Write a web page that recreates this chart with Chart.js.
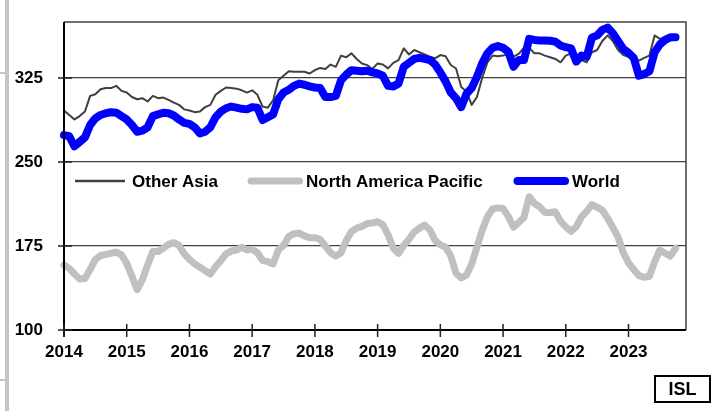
<!DOCTYPE html>
<html>
<head>
<meta charset="utf-8">
<script src="https://cdn.jsdelivr.net/npm/chart.js@4.4.1/dist/chart.umd.min.js"></script>
<style>
  html, body { margin: 0; padding: 0; background: #fff; }
  #wrap { position: relative; width: 716px; height: 411px; }
</style>
</head>
<body>
<div id="wrap"><canvas id="c" width="716" height="411"></canvas></div>
<script>
// ---- data (monthly, Jan 2014 .. Oct 2023) ----
const yearLabels = ["2014","2015","2016","2017","2018","2019","2020","2021","2022","2023"];
const yTicks = [100, 175, 250, 325];
const seriesNames = ["Other Asia", "North America Pacific", "World"];

const otherAsia = [
  296,292,288,291,295,309,310.5,315,316,316,
  318,313.5,312,308,306,307,304,309,307,307.5,
  305.5,303,301,297,296,294.5,295,299,301,310,
  313.5,316.5,316,315.5,314,312,314,310,299.5,298.5,
  305,323,327,331,330.5,330.6,330.6,329,332,334,
  333,337,335,345,343.5,347,342,338,336.5,333,
  338,337,333.6,338.5,341,351.5,346,350,348,346,
  344,342.6,345.5,344.5,336.6,333.5,317,313,301,308,
  325,339,345,344.5,345,346.5,344,346.5,352,352,
  347,347,345,343.5,342,339,345,347,344,341,
  339,348,350,358,363,358,350,345.5,344,342.6,
  340.5,343,345,363,360,361,362,362
];
const northAmericaPacific = [
  158,155,150,145.5,146,154,163,166.5,167.5,168.5,
  169.5,167,159.5,148,136,145,158,170,170,173,
  176.5,178,175.5,168,163,159,156,153,150,156.5,
  162,168,170.5,171.4,173.8,171.5,172,169,162,161,
  159,171.4,175.5,183.5,186,186.5,184,182.4,182.4,181,
  175,169,166,169,180,188,191,192.5,195,195.5,
  196.7,194,185,173,168.5,175.5,181,187.5,191,193.7,
  189.3,180,176,174,166,150.6,146.5,149,159,174,
  189,201,208,209,208.6,201.5,191.7,196,200.5,219,
  213,210,205,205,205.5,197,192,188,192,201,
  206,212,209.5,207,199.7,191.5,183,169,160,154,
  148.5,147,148,161,171.4,168.5,166,173
];
const world = [
  274,273,264,268,272,283,289,292,293.5,294.5,
  294,291,288,283,277,278,281,291,292.5,294,
  293.5,291.5,288,285,284,281,275.5,277,281,290,
  295,298,299.5,298.5,297.5,297,299,298.5,287.5,290,
  292.5,306,312,314.5,318,320,319,317.5,316.5,316,
  308,308,309,323,328,332,331.5,331,331.5,330,
  329,327,318,317.5,320,335,338.5,342,343,342,
  341,337,330,322,312,307,299,311,316,326,
  338,347,352,353.5,352,348.5,335,341,341,360,
  359,358.5,358.5,358.3,357.5,354,352.5,351.5,339.6,345,
  344,361,363,368,370,365,358,351,347.5,343,
  327,328.5,331,348,355,359,361.3,361.3
];

const toPts = arr => arr.map((v, i) => ({ x: i, y: v }));
const FONT = "'Liberation Sans', Arial, sans-serif";

const decor = {
  id: 'decor',
  beforeDraw(chart) {
    const ctx = chart.ctx;
    ctx.save();
    // left-edge grey strip (scan artefact in reference)
    ctx.fillStyle = '#c4c4c4';
    ctx.fillRect(5, 0, 4, 411);
    ctx.fillRect(0, 72, 9, 2);
    ctx.fillRect(0, 379, 9, 2);
    ctx.restore();
  },
  afterDraw(chart) {
    const ctx = chart.ctx;
    const a = chart.chartArea;
    const xs = chart.scales.x, ys = chart.scales.y;
    ctx.save();
    // frame (top & right)
    ctx.strokeStyle = '#404040';
    ctx.lineWidth = 1.5;
    ctx.beginPath();
    ctx.moveTo(a.left, a.top); ctx.lineTo(a.right, a.top); ctx.lineTo(a.right, a.bottom);
    ctx.stroke();
    // axes
    ctx.strokeStyle = '#000';
    ctx.lineWidth = 2;
    ctx.beginPath();
    ctx.moveTo(a.left, a.top); ctx.lineTo(a.left, a.bottom + 7);
    ctx.moveTo(a.left, a.bottom); ctx.lineTo(a.right, a.bottom);
    ctx.stroke();
    // crossing tick marks
    ctx.lineWidth = 1.5;
    ctx.strokeStyle = '#222';
    ctx.beginPath();
    yearLabels.forEach((_, i) => {
      const px = xs.getPixelForValue(i * 12);
      ctx.moveTo(px, a.bottom - 6); ctx.lineTo(px, a.bottom + 7);
    });
    yTicks.forEach(v => {
      const py = ys.getPixelForValue(v);
      ctx.moveTo(a.left - 6, py); ctx.lineTo(a.left + 8, py);
    });
    ctx.stroke();

    // legend inside plot
    const ly = 181;
    const items = [
      { ds: 0, x1: 75, x2: 125, tx: 132 },
      { ds: 1, x1: 251, x2: 299.5, tx: 306 },
      { ds: 2, x1: 517.5, x2: 565, tx: 572 }
    ];
    items.forEach(it => {
      const d = chart.data.datasets[it.ds];
      ctx.strokeStyle = d.borderColor;
      ctx.lineWidth = it.ds === 0 ? 2.5 : d.borderWidth;
      ctx.lineCap = it.ds === 0 ? 'butt' : 'round';
      ctx.beginPath(); ctx.moveTo(it.x1, ly); ctx.lineTo(it.x2, ly); ctx.stroke();
      ctx.fillStyle = '#000';
      ctx.font = "bold 17px " + FONT;
      ctx.textBaseline = 'middle';
      ctx.textAlign = 'left';
      ctx.fillText(d.label, it.tx, ly + 1);
    });

    // ISL box
    ctx.lineWidth = 2;
    ctx.strokeStyle = '#000';
    ctx.strokeRect(655, 376, 55, 26);
    ctx.font = "bold 18px " + FONT;
    ctx.textAlign = 'center';
    ctx.textBaseline = 'middle';
    ctx.fillText('ISL', 682.5, 390);
    ctx.restore();
  }
};

new Chart(document.getElementById('c'), {
  type: 'line',
  data: {
    datasets: [
      { label: seriesNames[0], data: toPts(otherAsia), borderColor: '#404040', borderWidth: 2, order: 1 },
      { label: seriesNames[1], data: toPts(northAmericaPacific), borderColor: '#c0c0c0', borderWidth: 7, order: 2 },
      { label: seriesNames[2], data: toPts(world), borderColor: '#0000ff', borderWidth: 8, order: 0 }
    ]
  },
  options: {
    responsive: false,
    animation: false,
    devicePixelRatio: 1,
    layout: { padding: { left: 0, top: 22, right: 30, bottom: 0 } },
    elements: {
      point: { radius: 0 },
      line: { tension: 0, borderJoinStyle: 'round', borderCapStyle: 'round', fill: false }
    },
    datasets: { line: { clip: false } },
    plugins: { legend: { display: false }, tooltip: { enabled: false } },
    scales: {
      x: {
        type: 'linear', min: 0, max: 119,
        afterBuildTicks: s => { s.ticks = yearLabels.map((_, i) => ({ value: i * 12 })); },
        afterFit: s => { s.height = 81; s.paddingLeft = 0; s.paddingRight = 0; },
        grid: { display: false, drawTicks: false },
        border: { display: false },
        ticks: {
          padding: 12, maxRotation: 0, autoSkip: false,
          color: '#000', font: { family: FONT, size: 17, weight: 'bold' },
          callback: v => yearLabels[Math.round(v / 12)]
        }
      },
      y: {
        min: 100, max: 375,
        afterBuildTicks: s => { s.ticks = yTicks.map(v => ({ value: v })); },
        afterFit: s => { s.width = 64; s.paddingTop = 0; s.paddingBottom = 0; },
        grid: { drawTicks: false, color: '#404040', lineWidth: 1.2 },
        border: { display: false },
        ticks: {
          padding: 21, color: '#000', font: { family: FONT, size: 17, weight: 'bold' },
          callback: v => String(v)
        }
      }
    }
  },
  plugins: [decor]
});
</script>
</body>
</html>
